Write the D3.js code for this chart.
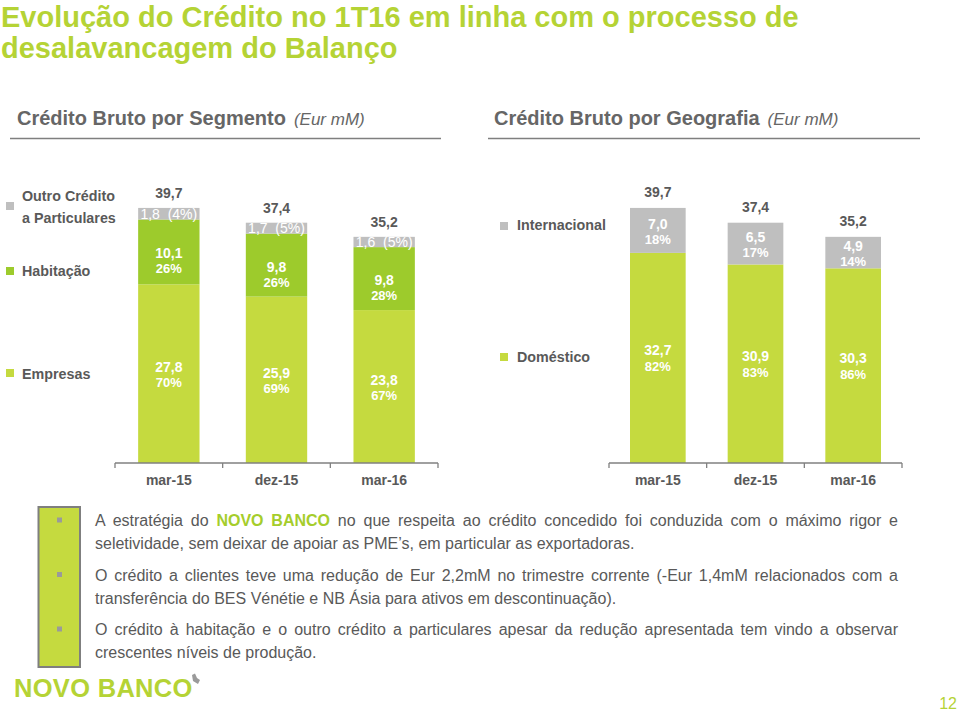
<!DOCTYPE html>
<html><head><meta charset="utf-8">
<script src="https://cdn.jsdelivr.net/npm/d3@7"></script>
<style>
body{margin:0;background:#fff;}
svg{display:block;font-family:"Liberation Sans",Arial,Helvetica,sans-serif;}
</style></head><body>
<svg id="chart" width="960" height="715"></svg>
<script>
// ---------- DATA ----------
const categories = ["mar-15", "dez-15", "mar-16"];
const segEmpresas = [27.8, 25.9, 23.8];
const segEmpresasPct = ["70%", "69%", "67%"];
const segHabitacao = [10.1, 9.8, 9.8];
const segHabitacaoPct = ["26%", "26%", "28%"];
const segOutro = [1.8, 1.7, 1.6];
const segOutroPct = ["(4%)", "(5%)", "(5%)"];
const segTotal = [39.7, 37.4, 35.2];
const geoDomestico = [32.7, 30.9, 30.3];
const geoDomesticoPct = ["82%", "83%", "86%"];
const geoInternacional = [7.0, 6.5, 4.9];
const geoInternacionalPct = ["18%", "17%", "14%"];
const geoTotal = [39.7, 37.4, 35.2];

// ---------- STYLE ----------
const COL = {
  empresas: "#C5DA3F", habit: "#9DCB2C", outro: "#BFBFBF",
  text: "#595959", title: "#B5D335", axis: "#808080"
};
const fmt = v => d3.format(".1f")(v).replace(".", ",");

const svg = d3.select("#chart");

// ---------- TITLE ----------
const title = svg.append("text").attr("fill", COL.title)
  .style("font-size", "29px").style("font-weight", "bold");
title.append("tspan").attr("x", 1).attr("y", 27).text("Evolução do Crédito no 1T16 em linha com o processo de");
title.append("tspan").attr("x", 1).attr("y", 57.5).text("desalavancagem do Balanço");

function subtitle(x, txt, lx0, lx1) {
  const t = svg.append("text").attr("x", x).attr("y", 125).attr("fill", "#666666");
  t.append("tspan").style("font-size", "20px").style("font-weight", "bold").text(txt);
  t.append("tspan").attr("dx", 8).style("font-size", "17px").style("font-style", "italic").text("(Eur mM)");
  svg.append("line").attr("x1", lx0).attr("x2", lx1).attr("y1", 138.5).attr("y2", 138.5)
    .attr("stroke", "#7f7f7f").attr("stroke-width", 1.5);
}
subtitle(17, "Crédito Bruto por Segmento", 10, 441);
subtitle(494, "Crédito Bruto por Geografia", 488, 920);

const y = d3.scaleLinear().domain([0, 40]).range([463, 206]);

function drawChart(cfg) {
  const x = d3.scaleBand().domain(categories).range(cfg.range)
    .paddingInner(0.43).paddingOuter(0.215);
  const rows = categories.map((c, i) => {
    const r = { cat: c, i: i };
    cfg.series.forEach(s => r[s.key] = s.values[i]);
    return r;
  });
  const stack = d3.stack().keys(cfg.series.map(s => s.key))(rows);
  const g = svg.append("g");

  stack.forEach((layer, li) => {
    const s = cfg.series[li];
    g.selectAll(null).data(layer).enter().append("rect")
      .attr("x", d => x(d.data.cat))
      .attr("width", x.bandwidth())
      .attr("y", d => y(d[1]))
      .attr("height", d => y(d[0]) - y(d[1]))
      .attr("fill", s.color);
    layer.forEach((d, i) => {
      const cx = x(d.data.cat) + x.bandwidth() / 2;
      const cy = (y(d[0]) + y(d[1])) / 2;
      if (s.single) {
        g.append("text").attr("x", cx).attr("y", cy + 5)
          .attr("text-anchor", "middle").attr("fill", "#fff")
          .style("font-size", "14px").style("white-space", "pre")
          .text(fmt(s.values[i]) + "  " + s.pcts[i]);
      } else {
        g.append("text").attr("x", cx).attr("y", cy + s.dy[0])
          .attr("text-anchor", "middle").attr("fill", "#fff")
          .style("font-size", "14px").style("font-weight", "bold")
          .text(fmt(s.values[i]));
        g.append("text").attr("x", cx).attr("y", cy + s.dy[1])
          .attr("text-anchor", "middle").attr("fill", "#fff")
          .style("font-size", "13px").style("font-weight", "bold")
          .text(s.pcts[i]);
      }
    });
  });

  g.selectAll(null).data(cfg.totals).enter().append("text")
    .attr("x", (d, i) => x(categories[i]) + x.bandwidth() / 2)
    .attr("y", d => y(d) - cfg.totalGap)
    .attr("text-anchor", "middle").attr("fill", COL.text)
    .style("font-size", "14px").style("font-weight", "bold")
    .text(d => fmt(d));

  const ax = g.append("g").attr("transform", `translate(0,${y(0)})`)
    .call(d3.axisBottom(x).tickSize(0).tickPadding(12));
  ax.select(".domain").remove();
  ax.selectAll("text").attr("fill", COL.text)
    .style("font-size", "14px").style("font-weight", "bold")
    .style("font-family", "'Liberation Sans',Arial,sans-serif");
  const [r0, r1] = x.range();
  g.append("line").attr("x1", r0).attr("x2", r1).attr("y1", y(0)).attr("y2", y(0))
    .attr("stroke", COL.axis).attr("stroke-width", 1.3);
  d3.range(categories.length + 1).forEach(k => {
    const bx = r0 + k * x.step();
    g.append("line").attr("x1", bx).attr("x2", bx).attr("y1", y(0)).attr("y2", y(0) + 5)
      .attr("stroke", COL.axis).attr("stroke-width", 1.3);
  });

  cfg.legend.forEach(l => {
    g.append("rect").attr("x", l.sx).attr("y", l.sy).attr("width", 8).attr("height", 8).attr("fill", l.color);
    const t = g.append("text").attr("fill", COL.text)
      .style("font-size", "14.3px").style("font-weight", "bold");
    l.lines.forEach((ln, k) => t.append("tspan").attr("x", l.tx).attr("y", l.ty + k * 21.7).text(ln));
  });
}

drawChart({
  range: [115, 438],
  totalGap: 10,
  totals: segTotal,
  series: [
    { key: "empresas", values: segEmpresas, pcts: segEmpresasPct, color: COL.empresas, dy: [-1.5, 13.5] },
    { key: "habitacao", values: segHabitacao, pcts: segHabitacaoPct, color: COL.habit, dy: [6.5, 21.5] },
    { key: "outro", values: segOutro, pcts: segOutroPct, color: COL.outro, single: true }
  ],
  legend: [
    { sx: 6, sy: 202, color: COL.outro, tx: 22, ty: 201, lines: ["Outro Crédito", "a Particulares"] },
    { sx: 6, sy: 267, color: COL.habit, tx: 22, ty: 276, lines: ["Habitação"] },
    { sx: 6, sy: 369, color: COL.empresas, tx: 22, ty: 379, lines: ["Empresas"] }
  ]
});

drawChart({
  range: [609, 902],
  totalGap: 11,
  totals: geoTotal,
  series: [
    { key: "domestico", values: geoDomestico, pcts: geoDomesticoPct, color: COL.empresas, dy: [-2.5, 13] },
    { key: "internacional", values: geoInternacional, pcts: geoInternacionalPct, color: COL.outro, dy: [-1.5, 13.5] }
  ],
  legend: [
    { sx: 500, sy: 222, color: COL.outro, tx: 517, ty: 230, lines: ["Internacional"] },
    { sx: 500, sy: 353, color: COL.empresas, tx: 517, ty: 362, lines: ["Doméstico"] }
  ]
});

// ---------- COMMENTARY ----------
svg.append("rect").attr("x", 38.5).attr("y", 507).attr("width", 41.5).attr("height", 160)
  .attr("fill", COL.empresas).attr("stroke", "#7f7f7f").attr("stroke-width", 2);

const paragraphs = [
  [
    [{ t: "A estratégia do " }, { t: "NOVO BANCO", hl: true }, { t: " no que respeita ao crédito concedido foi conduzida com o máximo rigor e" }],
    [{ t: "seletividade, sem deixar de apoiar as PME’s, em particular as exportadoras." }]
  ],
  [
    [{ t: "O crédito a clientes teve uma redução de Eur 2,2mM no trimestre corrente (-Eur 1,4mM relacionados com a" }],
    [{ t: "transferência do BES Vénétie e NB Ásia para ativos em descontinuação)." }]
  ],
  [
    [{ t: "O crédito à habitação e o outro crédito a particulares apesar da redução apresentada tem vindo a observar" }],
    [{ t: "crescentes níveis de produção." }]
  ]
];
const paraY = [526, 580.5, 635];
const textX = 95, textW = 803;
paragraphs.forEach((p, pi) => {
  const by = paraY[pi];
  svg.append("rect").attr("x", 57).attr("y", by - 8.5).attr("width", 5).attr("height", 5).attr("fill", "#9a9a9a");
  p.forEach((line, li) => {
    const t = svg.append("text").attr("x", textX).attr("y", by + li * 23)
      .attr("fill", COL.text).style("font-size", "16px");
    line.forEach(part => {
      const ts = t.append("tspan").text(part.t);
      if (part.hl) ts.attr("fill", "#A5CD2B").style("font-weight", "bold");
    });
    if (li < p.length - 1) {
      const len = t.node().getComputedTextLength();
      const full = line.map(d => d.t).join("");
      const n = (full.match(/ /g) || []).length;
      t.style("word-spacing", ((textW - len) / n) + "px");
    }
  });
});

// ---------- FOOTER ----------
svg.append("text").attr("x", 14).attr("y", 697).attr("fill", COL.title)
  .style("font-size", "25.5px").style("font-weight", "bold").style("letter-spacing", "0.3px")
  .text("NOVO BANCO");
svg.append("path").attr("d", "M192,675 L195,673.5 L197,678 L200,680 L198,684 L193,681 Z").attr("fill", "#9a9a9a");
svg.append("text").attr("x", 957).attr("y", 709).attr("text-anchor", "end")
  .attr("fill", COL.title).style("font-size", "16px").text("12");
</script>
</body></html>
